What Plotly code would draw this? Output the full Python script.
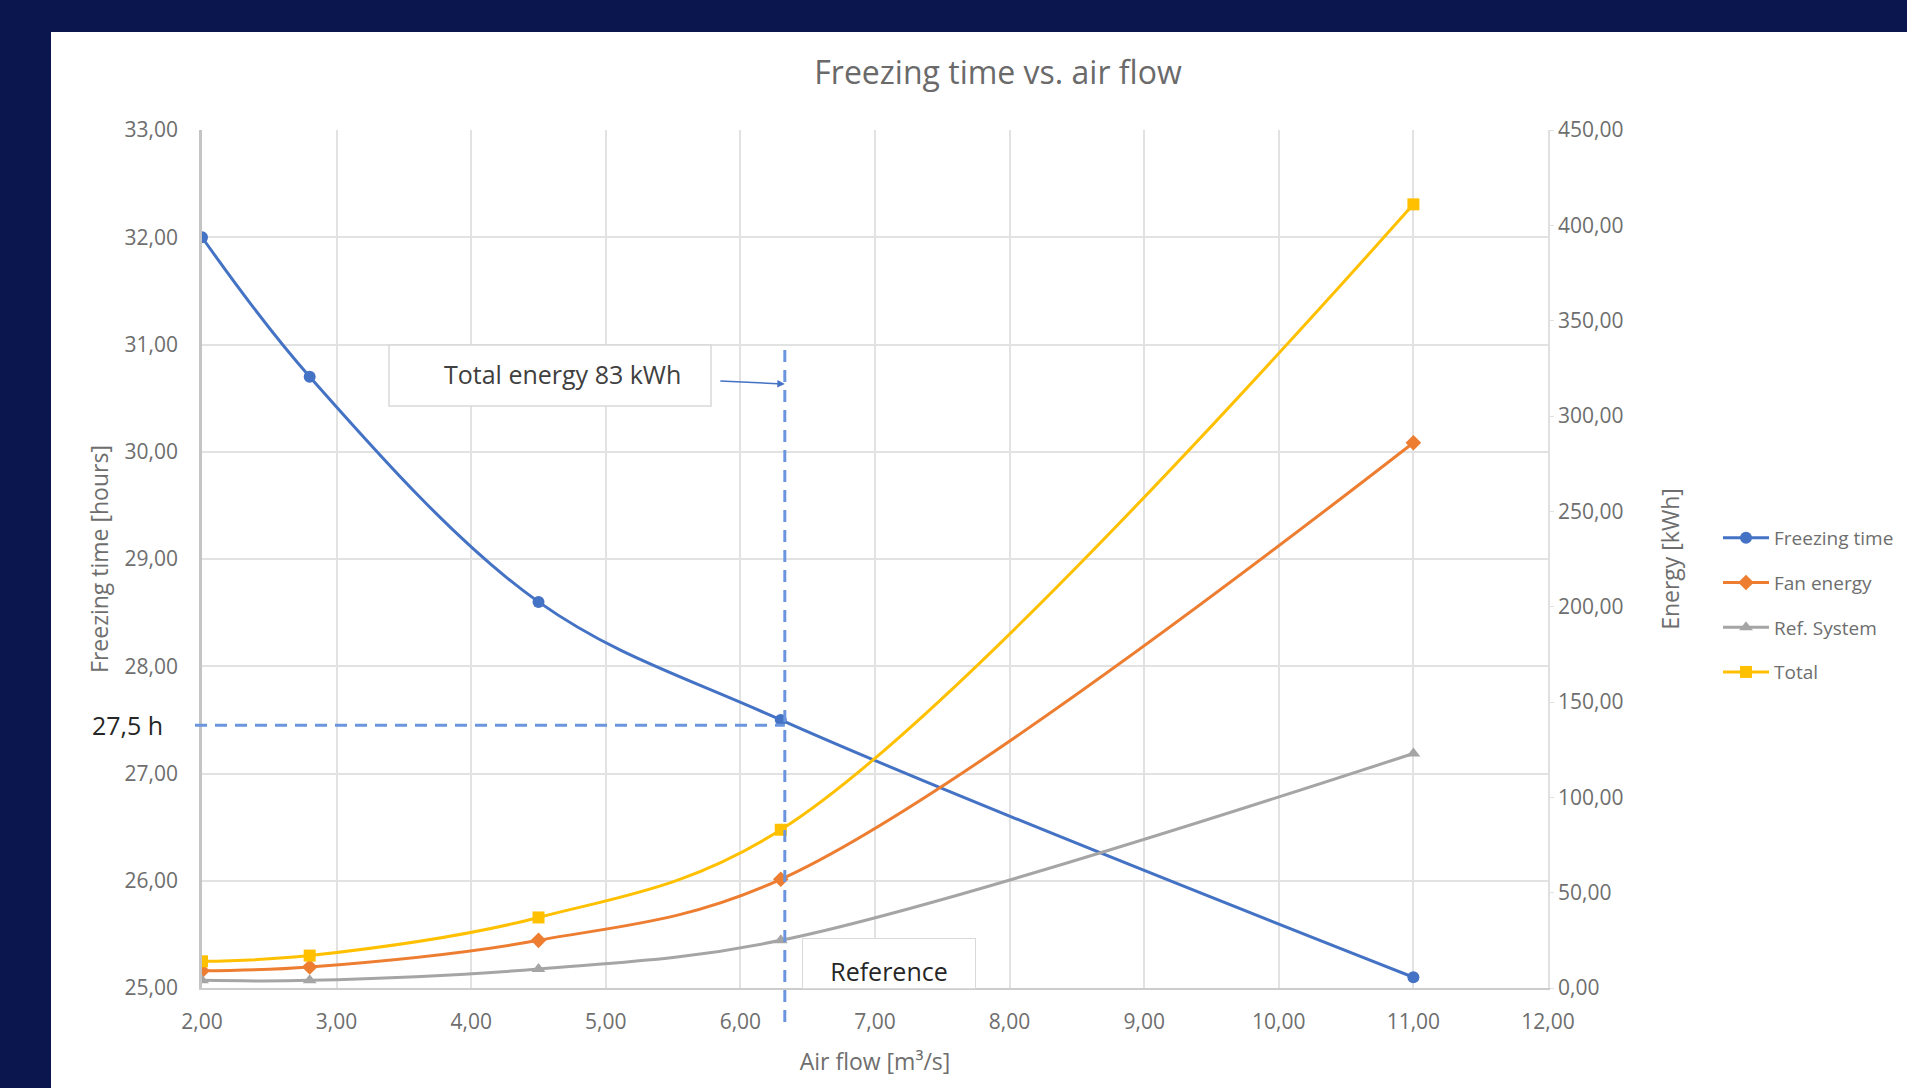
import plotly.graph_objects as go

# ---------------- data ----------------
air_flow = [2.0, 2.8, 4.5, 6.3, 11.0]
freezing_time = [32.0, 30.7, 28.6, 27.5, 25.1]
fan_energy = [9.0, 11.0, 25.0, 57.0, 286.0]
ref_system = [4.0, 4.0, 10.0, 25.0, 123.0]
total_energy = [14.0, 17.0, 37.0, 83.0, 411.0]

series_names = ["Freezing time", "Fan energy", "Ref. System", "Total"]
series_colors = ["#4472C4", "#ED7D31", "#A5A5A5", "#FFC000"]
series_symbols = ["circle", "diamond", "triangle-up", "square"]

X_RANGE = [2, 12]
Y_RANGE = [25, 33]
Y2_RANGE = [0, 450]

REF_AIRFLOW = 6.33
REF_TIME = 27.45

# ---------------- layout geometry ----------------
W, H = 1907, 1088
ML, MR, MT, MB = 202, W - 1548, 130, H - 988
PW, PH = W - ML - MR, H - MT - MB
NAVY = "#0a164d"
FONT = "Open Sans"
TICK_COL = "#6e6e6e"


def px_to_paper_x(px):
    return (px - ML) / PW


def px_to_paper_y(py):
    return (H - MB - py) / PH


def px_to_x(px):
    return X_RANGE[0] + (px - ML) / PW * (X_RANGE[1] - X_RANGE[0])


def px_to_y(py):
    return Y_RANGE[0] + (H - MB - py) / PH * (Y_RANGE[1] - Y_RANGE[0])


fig = go.Figure()

energy_series = [fan_energy, ref_system, total_energy]
fig.add_trace(go.Scatter(
    x=air_flow, y=freezing_time, name=series_names[0], legendgroup="g0",
    mode="lines+markers", line=dict(color=series_colors[0], width=3, shape="spline"),
    marker=dict(symbol=series_symbols[0], size=12, color=series_colors[0]),
    yaxis="y"))
for i, ys in enumerate(energy_series, start=1):
    fig.add_trace(go.Scatter(
        x=air_flow, y=ys, name=series_names[i], legendgroup=f"g{i}",
        mode="lines+markers", line=dict(color=series_colors[i], width=3, shape="spline"),
        marker=dict(symbol=series_symbols[i], size=12, color=series_colors[i]),
        yaxis="y2"))

ref_x_paper = (REF_AIRFLOW - X_RANGE[0]) / (X_RANGE[1] - X_RANGE[0])

shapes = [
    # white chart panel on the navy page
    dict(type="rect", xref="paper", yref="paper", layer="below",
         x0=px_to_paper_x(51), x1=px_to_paper_x(W + 5),
         y0=px_to_paper_y(H + 5), y1=px_to_paper_y(32),
         fillcolor="white", line=dict(width=0)),
    # horizontal dashed reference line
    dict(type="line", xref="paper", yref="y", x0=px_to_paper_x(195), x1=ref_x_paper,
         y0=REF_TIME, y1=REF_TIME,
         line=dict(color="#6b96de", width=3, dash="12px,8px")),
    # vertical dashed reference line
    dict(type="line", xref="x", yref="paper", x0=REF_AIRFLOW, x1=REF_AIRFLOW,
         y0=px_to_paper_y(1022), y1=px_to_paper_y(350),
         line=dict(color="#6b96de", width=3, dash="12px,8px")),
    # box of the "Total energy" callout
    dict(type="rect", xref="x", yref="y", layer="above",
         x0=px_to_x(389), x1=px_to_x(711), y0=px_to_y(406), y1=px_to_y(345),
         fillcolor="white", line=dict(color="#d9d9d9", width=1.5)),
]

annotations = [
    dict(text="Total energy 83 kWh", xref="x", yref="y", x=px_to_x(562), y=px_to_y(374),
         showarrow=False, xanchor="center", yanchor="middle",
         font=dict(family=FONT, size=25, color="#404040")),
    dict(text="", xref="x", yref="y", x=REF_AIRFLOW, y=px_to_y(384),
         showarrow=True, ax=-66, ay=-3, arrowhead=2, arrowsize=1, arrowwidth=1.5,
         arrowcolor="#4472C4", standoff=0),
    dict(text="Reference", xref="x", yref="y", x=px_to_x(889), y=px_to_y(963.5),
         showarrow=False, width=172, height=49, borderpad=0, borderwidth=1,
         bordercolor="#d9d9d9", bgcolor="white", valign="bottom",
         font=dict(family=FONT, size=25, color="#262626")),
    dict(text="27,5 h", xref="paper", yref="y", x=px_to_paper_x(165), y=REF_TIME,
         xanchor="right", yanchor="middle", showarrow=False,
         font=dict(family=FONT, size=25, color="#262626")),
]

fig.update_layout(
    width=W, height=H,
    margin=dict(l=ML, r=MR, t=MT, b=MB, pad=0),
    paper_bgcolor=NAVY, plot_bgcolor="white",
    separators=",.",
    font=dict(family=FONT, color=TICK_COL),
    title=dict(text="Freezing time vs. air flow", x=998 / W, xref="container", xanchor="center",
               y=1 - 73 / H, yref="container", yanchor="middle",
               font=dict(family=FONT, size=32, color="#6a6a6a")),
    xaxis=dict(range=X_RANGE, dtick=1, tick0=2, tickformat=".2f",
               showgrid=True, gridcolor="#e2e2e2", gridwidth=1.5,
               showline=True, linecolor="#cccccc", linewidth=2,
               zeroline=False, ticks="", automargin=False, ticklabelstandoff=14,
               tickfont=dict(family=FONT, size=21, color=TICK_COL),
               title=dict(text="Air flow [m³/s]", standoff=20,
                          font=dict(family=FONT, size=23, color=TICK_COL))),
    yaxis=dict(range=Y_RANGE, dtick=1, tick0=25, tickformat=".2f",
               showgrid=True, gridcolor="#e2e2e2", gridwidth=1.5,
               showline=True, linecolor="#c4c4c4", linewidth=2.5,
               zeroline=False, ticks="", automargin=False, ticklabelstandoff=17,
               tickfont=dict(family=FONT, size=21, color=TICK_COL),
               title=dict(text="Freezing time [hours]", standoff=10,
                          font=dict(family=FONT, size=23, color=TICK_COL))),
    yaxis2=dict(range=Y2_RANGE, dtick=50, tick0=0, tickformat=".2f",
                overlaying="y", side="right", showgrid=False,
                showline=True, linecolor="#e0e0e0", linewidth=1.5,
                zeroline=False, ticks="outside", ticklen=4, tickcolor="#e0e0e0",
                automargin=False,
                tickfont=dict(family=FONT, size=21, color=TICK_COL),
                title=dict(text="Energy [kWh]", standoff=40,
                           font=dict(family=FONT, size=23, color=TICK_COL))),
    legend=dict(xref="container", yref="container", x=1718 / W, y=1 - 605 / H,
                xanchor="left", yanchor="middle", bgcolor="rgba(0,0,0,0)",
                itemwidth=46, tracegroupgap=17,
                font=dict(family=FONT, size=19, color=TICK_COL)),
    shapes=shapes,
    annotations=annotations,
    showlegend=True,
)

fig.write_html("out.html", config=dict(displayModeBar=False),
               post_script="document.body.style.margin='0';document.body.style.overflow='hidden';")
